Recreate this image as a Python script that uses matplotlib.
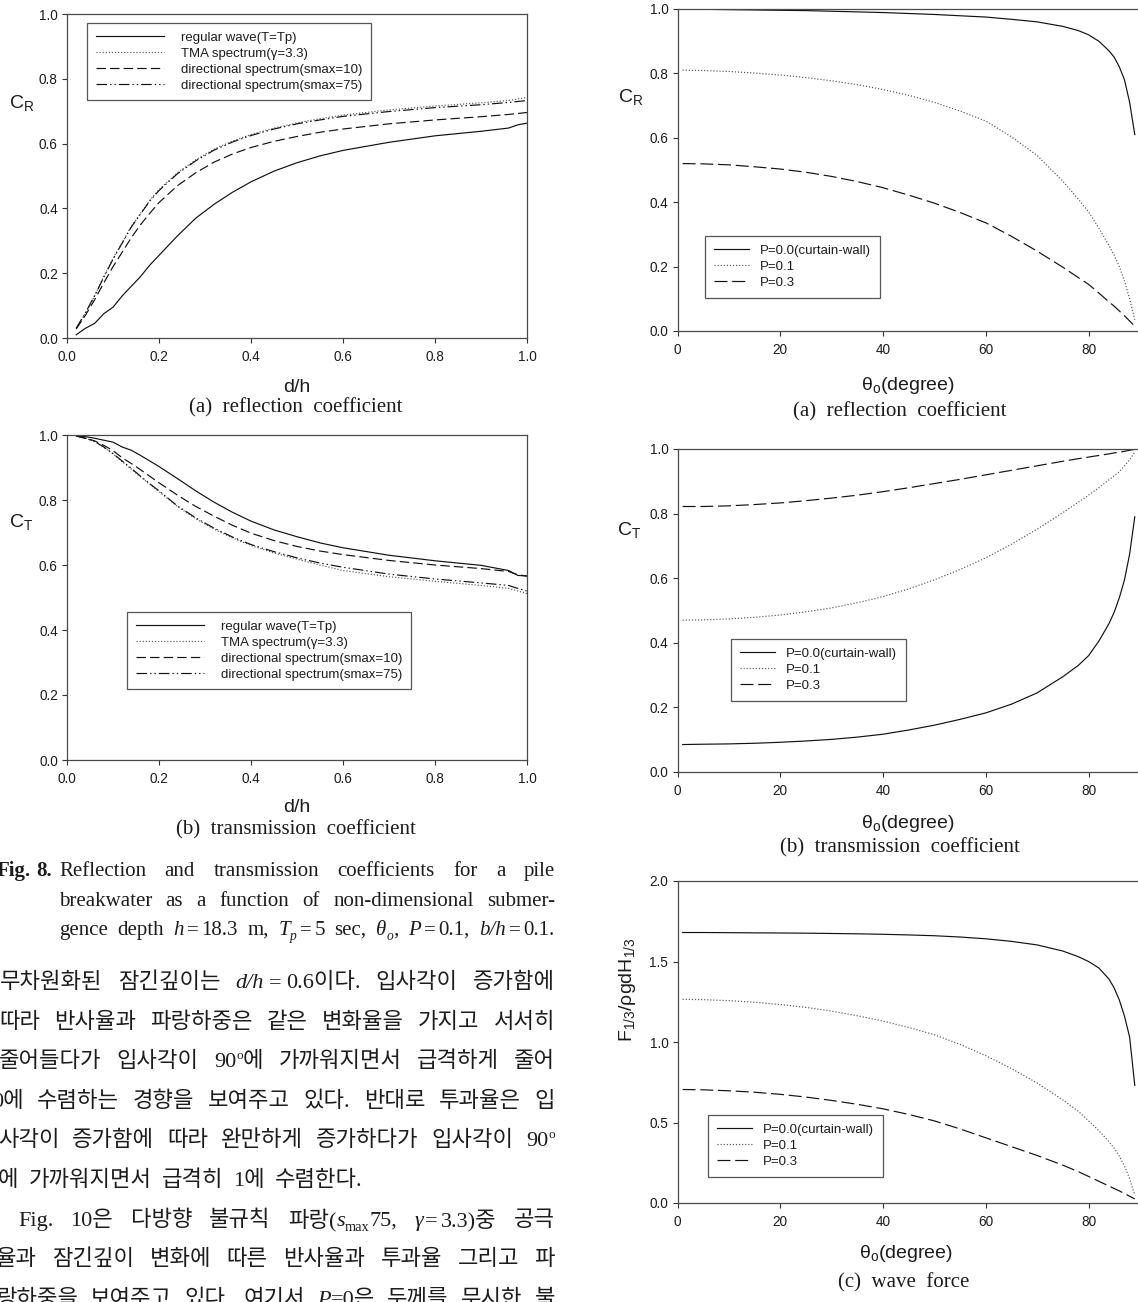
import matplotlib
matplotlib.use('Agg')
import matplotlib.pyplot as plt

W, H = 1138, 1302
plt.rcParams['font.family'] = ['Liberation Sans', 'DejaVu Sans']
plt.rcParams['mathtext.default'] = 'regular'

SERIF = ['Liberation Serif', 'Noto Sans CJK KR', 'DejaVu Serif']
INK = '#1c1c1c'

# ---------------- data ----------------
dh = [0.02, 0.04, 0.06, 0.08, 0.10, 0.12, 0.14, 0.16, 0.18, 0.20, 0.24, 0.28, 0.32,
      0.36, 0.40, 0.45, 0.50, 0.55, 0.60, 0.70, 0.80, 0.90, 0.96, 0.98, 1.00]

cr_regular = [0.010, 0.030, 0.045, 0.075, 0.095, 0.130, 0.160, 0.190, 0.225, 0.255, 0.315, 0.370, 0.413,
              0.450, 0.482, 0.515, 0.541, 0.562, 0.579, 0.604, 0.624, 0.638, 0.648, 0.658, 0.663]
cr_tma = [0.030, 0.075, 0.130, 0.190, 0.245, 0.295, 0.345, 0.385, 0.425, 0.458, 0.510, 0.550, 0.583,
          0.608, 0.628, 0.648, 0.664, 0.677, 0.688, 0.704, 0.716, 0.726, 0.733, 0.738, 0.742]
cr_s10 = [0.028, 0.070, 0.118, 0.170, 0.220, 0.265, 0.310, 0.350, 0.385, 0.418, 0.470, 0.510, 0.543,
          0.568, 0.588, 0.607, 0.622, 0.635, 0.645, 0.661, 0.673, 0.683, 0.690, 0.693, 0.696]
cr_s75 = [0.030, 0.078, 0.130, 0.188, 0.243, 0.293, 0.343, 0.383, 0.423, 0.455, 0.507, 0.547, 0.580,
          0.605, 0.625, 0.645, 0.661, 0.673, 0.684, 0.699, 0.711, 0.720, 0.727, 0.730, 0.733]

ct_regular = [0.998, 0.995, 0.990, 0.984, 0.978, 0.963, 0.953, 0.937, 0.920, 0.903, 0.866, 0.828, 0.793,
              0.762, 0.735, 0.708, 0.687, 0.668, 0.653, 0.630, 0.613, 0.599, 0.583, 0.568, 0.566]
ct_tma = [0.997, 0.990, 0.980, 0.962, 0.942, 0.918, 0.895, 0.871, 0.848, 0.826, 0.780, 0.742, 0.710,
          0.683, 0.660, 0.637, 0.618, 0.600, 0.583, 0.564, 0.550, 0.537, 0.528, 0.520, 0.512]
ct_s10 = [0.997, 0.990, 0.982, 0.968, 0.952, 0.930, 0.912, 0.893, 0.873, 0.853, 0.815, 0.780, 0.750,
          0.722, 0.698, 0.675, 0.657, 0.643, 0.632, 0.614, 0.600, 0.589, 0.580, 0.570, 0.566]
ct_s75 = [0.997, 0.990, 0.980, 0.963, 0.943, 0.920, 0.897, 0.873, 0.850, 0.828, 0.782, 0.745, 0.713,
          0.686, 0.663, 0.641, 0.622, 0.606, 0.593, 0.572, 0.557, 0.545, 0.537, 0.528, 0.520]

theta = [1, 5, 10, 15, 20, 25, 30, 35, 40, 45, 50, 55, 60, 65, 70, 75, 78, 80, 82, 84, 85, 86, 87, 88, 89]

cr_p0 = [0.999, 0.999, 0.998, 0.997, 0.996, 0.995, 0.993, 0.991, 0.989, 0.986, 0.983, 0.979, 0.975,
         0.968, 0.960, 0.946, 0.933, 0.920, 0.900, 0.870, 0.850, 0.820, 0.780, 0.710, 0.610]
cr_p1 = [0.810, 0.809, 0.806, 0.801, 0.795, 0.787, 0.777, 0.765, 0.750, 0.732, 0.710, 0.683, 0.652,
         0.603, 0.545, 0.465, 0.410, 0.370, 0.320, 0.265, 0.235, 0.200, 0.155, 0.100, 0.035]
cr_p3 = [0.520, 0.519, 0.516, 0.510, 0.503, 0.493, 0.480, 0.464, 0.445, 0.422, 0.397, 0.368, 0.336,
         0.294, 0.248, 0.198, 0.166, 0.145, 0.118, 0.090, 0.077, 0.062, 0.047, 0.031, 0.015]

ct_p0 = [0.085, 0.086, 0.087, 0.089, 0.092, 0.096, 0.101, 0.108, 0.117, 0.130, 0.145, 0.163, 0.183,
         0.210, 0.245, 0.295, 0.330, 0.360, 0.405, 0.460, 0.495, 0.540, 0.595, 0.675, 0.790]
ct_p1 = [0.470, 0.471, 0.474, 0.479, 0.486, 0.496, 0.508, 0.524, 0.543, 0.567, 0.595, 0.627, 0.663,
         0.705, 0.752, 0.803, 0.835, 0.857, 0.880, 0.905, 0.917, 0.930, 0.948, 0.967, 0.990]
ct_p3 = [0.822, 0.822, 0.824, 0.828, 0.833, 0.840, 0.848, 0.857, 0.868, 0.880, 0.893, 0.906, 0.920,
         0.934, 0.948, 0.962, 0.970, 0.975, 0.980, 0.985, 0.988, 0.990, 0.993, 0.996, 0.999]

f_p0 = [1.680, 1.680, 1.679, 1.678, 1.677, 1.676, 1.674, 1.672, 1.669, 1.665, 1.660, 1.652, 1.641,
        1.625, 1.603, 1.565, 1.530, 1.500, 1.460, 1.390, 1.335, 1.260, 1.160, 1.030, 0.730]
f_p1 = [1.265, 1.263, 1.257, 1.247, 1.233, 1.215, 1.192, 1.163, 1.130, 1.090, 1.045, 0.985, 0.915,
        0.835, 0.745, 0.640, 0.570, 0.510, 0.450, 0.380, 0.340, 0.290, 0.230, 0.150, 0.050]
f_p3 = [0.705, 0.703, 0.697, 0.688, 0.675, 0.658, 0.637, 0.613, 0.585, 0.550, 0.510, 0.460, 0.405,
        0.350, 0.295, 0.235, 0.195, 0.165, 0.135, 0.105, 0.090, 0.075, 0.058, 0.042, 0.025]

wave_labels = ['regular wave(T=Tp)', 'TMA spectrum(γ=3.3)',
               'directional spectrum(smax=10)', 'directional spectrum(smax=75)']
p_labels = ['P=0.0(curtain-wall)', 'P=0.1', 'P=0.3']

dh_ticks = [0.0, 0.2, 0.4, 0.6, 0.8, 1.0]
c_ticks = [0.0, 0.2, 0.4, 0.6, 0.8, 1.0]
th_ticks = [0, 20, 40, 60, 80]
f_ticks = [0.0, 0.5, 1.0, 1.5, 2.0]

# ---------------- figure ----------------
fig = plt.figure(figsize=(W / 100, H / 100), dpi=100)
fig.patch.set_facecolor('white')


def fx(x):
    return x / W


def fy(y):
    return 1 - y / H


def make_ax(x0, y0, x1, y1):
    return fig.add_axes([fx(x0), fy(y1), (x1 - x0) / W, (y1 - y0) / H])


def style_ax(ax, xlim, ylim, xt, yt, xfmt, yfmt):
    ax.set_xlim(*xlim)
    ax.set_ylim(*ylim)
    ax.set_xticks(xt)
    ax.set_xticklabels([xfmt.format(v) for v in xt])
    ax.set_yticks(yt)
    ax.set_yticklabels([yfmt.format(v) for v in yt])
    ax.tick_params(axis='both', direction='out', length=3.6, width=0.8, color='#333',
                   labelsize=9.8, labelcolor=INK, top=False, right=False)
    ax.tick_params(axis='x', pad=5.0)
    ax.tick_params(axis='y', pad=3.0)
    for sp in ax.spines.values():
        sp.set_linewidth(0.9)
        sp.set_color('#4a4a4a')


LW = 0.85
SOLID = dict(color='#111111', lw=LW, ls='-')
DOT = dict(color='#555555', lw=LW, ls=(0, (1, 1.6)))
DASH_L = dict(color='#111111', lw=LW, ls=(0, (8, 3.5)))
DASHDOT = dict(color='#111111', lw=LW, ls=(0, (9, 2.5, 1.2, 2.5, 1.2, 2.5)))
DASH_R = dict(color='#111111', lw=LW, ls=(0, (11, 4)))

LEG_FS = 9.5


def legend(ax, x0, y0, hl, tp):
    leg = ax.legend(loc='upper left', bbox_to_anchor=(fx(x0), fy(y0)),
                    bbox_transform=fig.transFigure, borderaxespad=0, fontsize=LEG_FS,
                    handlelength=hl, handletextpad=tp, labelspacing=0.28, borderpad=0.66,
                    fancybox=False, framealpha=1, edgecolor='#555555')
    leg.get_frame().set_linewidth(0.9)
    for t in leg.get_texts():
        t.set_color(INK)


def label(x, y, s, size=14, rot=0, family=None, ha='center'):
    kw = dict(fontsize=size, ha=ha, va='center', rotation=rot, color=INK)
    if family is not None:
        kw['family'] = family
    fig.text(fx(x), fy(y), s, **kw)


# Left (a) reflection vs d/h
ax = make_ax(67, 14, 527, 338)
ax.plot(dh, cr_regular, label=wave_labels[0], **SOLID)
ax.plot(dh, cr_tma, label=wave_labels[1], **DOT)
ax.plot(dh, cr_s10, label=wave_labels[2], **DASH_L)
ax.plot(dh, cr_s75, label=wave_labels[3], **DASHDOT)
style_ax(ax, (0, 1), (0, 1), dh_ticks, c_ticks, '{:.1f}', '{:.1f}')
legend(ax, 87, 23, 5.2, 1.25)
label(22, 103, r'$\mathregular{C_R}$')
label(297, 388, 'd/h')
label(296, 408, '(a)  reflection  coefficient', size=15, family=SERIF)

# Left (b) transmission vs d/h
ax = make_ax(67, 435, 527, 760)
ax.plot(dh, ct_regular, label=wave_labels[0], **SOLID)
ax.plot(dh, ct_tma, label=wave_labels[1], **DOT)
ax.plot(dh, ct_s10, label=wave_labels[2], **DASH_L)
ax.plot(dh, ct_s75, label=wave_labels[3], **DASHDOT)
style_ax(ax, (0, 1), (0, 1), dh_ticks, c_ticks, '{:.1f}', '{:.1f}')
legend(ax, 127, 612, 5.2, 1.25)
label(21, 522, r'$\mathregular{C_T}$')
label(297, 808, 'd/h')
label(296, 830, '(b)  transmission  coefficient', size=15, family=SERIF)

RX0, RX1 = 677.5, 677.5 + 90 * 5.138
# Right (a)
ax = make_ax(RX0, 9, RX1, 331)
ax.plot(theta, cr_p0, label=p_labels[0], **SOLID)
ax.plot(theta, cr_p1, label=p_labels[1], **DOT)
ax.plot(theta, cr_p3, label=p_labels[2], **DASH_R)
style_ax(ax, (0, 90), (0, 1), th_ticks, c_ticks, '{:d}', '{:.1f}')
legend(ax, 705, 236, 2.7, 0.8)
label(631, 97, r'$\mathregular{C_R}$')
label(908, 385, r'$\mathregular{θ_o}$(degree)')
label(900, 412, '(a)  reflection  coefficient', size=15, family=SERIF)

# Right (b)
ax = make_ax(RX0, 449, RX1, 772)
ax.plot(theta, ct_p0, label=p_labels[0], **SOLID)
ax.plot(theta, ct_p1, label=p_labels[1], **DOT)
ax.plot(theta, ct_p3, label=p_labels[2], **DASH_R)
style_ax(ax, (0, 90), (0, 1), th_ticks, c_ticks, '{:d}', '{:.1f}')
legend(ax, 731, 639, 2.7, 0.8)
label(629, 530, r'$\mathregular{C_T}$')
label(908, 823, r'$\mathregular{θ_o}$(degree)')
label(900, 848, '(b)  transmission  coefficient', size=15, family=SERIF)

# Right (c)
ax = make_ax(RX0, 881, RX1, 1203)
ax.plot(theta, f_p0, label=p_labels[0], **SOLID)
ax.plot(theta, f_p1, label=p_labels[1], **DOT)
ax.plot(theta, f_p3, label=p_labels[2], **DASH_R)
style_ax(ax, (0, 90), (0, 2), th_ticks, f_ticks, '{:d}', '{:.1f}')
legend(ax, 708, 1115, 2.7, 0.8)
label(628, 990, r'$\mathregular{F_{1/3}/ρgdH_{1/3}}$', rot=90)
label(906, 1253, r'$\mathregular{θ_o}$(degree)')
label(904, 1283, '(c)  wave  force', size=15, family=SERIF)

# ---------------- body text ----------------
renderer = fig.canvas.get_renderer()


def place_line(words, x0, x1, ybase, size, justify=True, gap=10):
    built = []
    total = 0.0
    for w in words:
        segs = []
        wx = 0.0
        for seg in w:
            if isinstance(seg, str):
                seg = (seg, {})
            s, o = seg
            fs = size * o.get('scale', 1.0)
            t = fig.text(0, 0, s, fontsize=fs, family=o.get('family', SERIF),
                         fontstyle=o.get('style', 'normal'),
                         fontweight=o.get('weight', 'normal'),
                         color=INK, ha='left', va='baseline')
            wd = t.get_window_extent(renderer=renderer).width
            wx += o.get('padl', 0)
            segs.append((t, wx, o.get('dy', 0)))
            wx += wd + o.get('padr', 0)
        built.append((segs, wx))
        total += wx
    if justify and len(words) > 1:
        g = (x1 - x0 - total) / (len(words) - 1)
    else:
        g = gap
    x = x0
    for segs, wx in built:
        for t, off, dy in segs:
            t.set_position((fx(x + off), fy(ybase - dy)))
        x += wx + g


it = dict(style='italic')
bf = dict(weight='bold')
eq = dict(padl=3, padr=3)
eqk = dict(padl=5, padr=5)
sub_it = dict(style='italic', scale=0.65, dy=-5)
sub = dict(scale=0.65, dy=-5)
sup = dict(scale=0.6, dy=8)

CAP = 15
TX1 = 555
place_line([[('Fig.', bf)], [('8.', bf)]], -3, 60, 876, CAP, justify=False, gap=5)
place_line([['Reflection'], ['and'], ['transmission'], ['coefficients'], ['for'], ['a'], ['pile']],
           59, TX1, 876, CAP)
place_line([['breakwater'], ['as'], ['a'], ['function'], ['of'], ['non-dimensional'], ['submer-']],
           59, TX1, 906, CAP)
place_line([['gence'], ['depth'], [('h', it), ('=', eq), '18.3'], ['m,'],
            [('T', it), ('p', sub_it), ('=', eq), '5'], ['sec,'],
            [('θ', it), ('o', sub_it), ','], [('P', it), ('=', eq), '0.1,'],
            [('b/h', it), ('=', eq), '0.1.']],
           59, TX1, 935, CAP)

KO = 16
ko_lines = [
    (0, 988, True, [['무차원화된'], ['잠긴깊이는'], [('d/h', it), ('=', eqk), '0.6이다.'],
                    ['입사각이'], ['증가함에']]),
    (-1, 1028, True, [['따라'], ['반사율과'], ['파랑하중은'], ['같은'], ['변화율을'], ['가지고'],
                      ['서서히']]),
    (-1, 1067, True, [['줄어들다가'], ['입사각이'], ['90', ('o', sup), '에'], ['가까워지면서'],
                      ['급격하게'], ['줄어']]),
    (-8, 1107, True, [['0에'], ['수렴하는'], ['경향을'], ['보여주고'], ['있다.'], ['반대로'],
                      ['투과율은'], ['입']]),
    (-2, 1146, True, [['사각이'], ['증가함에'], ['따라'], ['완만하게'], ['증가하다가'], ['입사각이'],
                      ['90', ('o', sup)]]),
    (-2, 1186, False, [['에'], ['가까워지면서'], ['급격히'], ['1에'], ['수렴한다.']]),
    (18, 1226, True, [['Fig.'], ['10은'], ['다방향'], ['불규칙'],
                      ['파랑(', ('s', it), ('max', sub), '75,'],
                      [('γ', it), ('=', dict(padl=1, padr=4)), '3.3)중'], ['공극']]),
    (-4, 1265, True, [['율과'], ['잠긴깊이'], ['변화에'], ['따른'], ['반사율과'], ['투과율'],
                      ['그리고'], ['파']]),
    (-4, 1305, True, [['랑하중을'], ['보여주고'], ['있다.'], ['여기서'], [('P', it), '=0은'],
                      ['두께를'], ['무시한'], ['불']]),
]
for x0, yb, just, words in ko_lines:
    place_line(words, x0, TX1, yb, KO, justify=just, gap=10)

fig.savefig('out.png', dpi=100, facecolor='white')
